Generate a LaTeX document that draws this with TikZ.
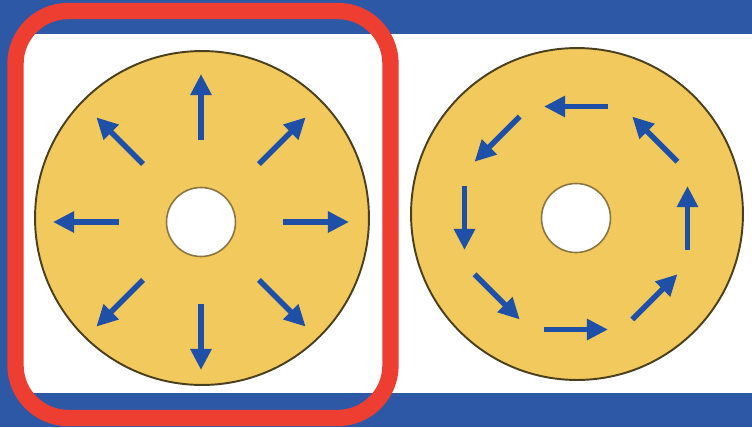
\documentclass[tikz,border=0pt]{standalone}
\usetikzlibrary{arrows.meta}

\definecolor{bandblue}{HTML}{2C58A5}
\definecolor{framered}{HTML}{EE3E32}
\definecolor{diskfill}{HTML}{F1C95C}
\definecolor{diskline}{HTML}{4A4020}
\definecolor{holeline}{HTML}{8A7440}
\definecolor{arrowblue}{HTML}{1E50A8}

\begin{document}
\begin{tikzpicture}[x=0.02cm, y=-0.02cm,
        disk/.style={circle, draw=diskline, line width=1.1pt, fill=diskfill,
                     inner sep=0pt, minimum size=6.68cm},
        hole/.style={circle, draw=holeline, line width=0.9pt, fill=white,
                     inner sep=0pt, minimum size=1.38cm},
        flow/.style={-{Triangle[length=12pt, width=11.5pt]}, line width=3.1pt, draw=arrowblue},
        frame/.style={draw=framered, line width=9.3pt, rounded corners=30pt}
    ]
        % page, band and white panel
        \fill[bandblue] (0,0) rectangle (752,427);
        \useasboundingbox (0,0) rectangle (752,427);
        \fill[white] (16,34) rectangle (752,393);

        % left disk: radial field
        \node[disk] (srcdisk) at (202,218) {};
        \node[hole] (srchole) at (201,222) {};
        \foreach \a in {0,45,...,315}
            \draw[flow] ([shift={(\a:82)}]srchole.center) -- ([shift={(\a:148)}]srchole.center);

        % right disk: circulating field
        \node[disk, minimum size=6.64cm] (rotdisk) at (577,214) {};
        \node[hole] (rothole) at (576,218) {};
        \foreach \a in {0,45,...,315}
            \draw[flow] ([shift={(\a+16:116)}]rothole.center) -- ([shift={(\a-16:116)}]rothole.center);

        % highlight round the left disk
        \draw[frame] (15.5,11) rectangle (390.5,418);
    \end{tikzpicture}
\end{document}
